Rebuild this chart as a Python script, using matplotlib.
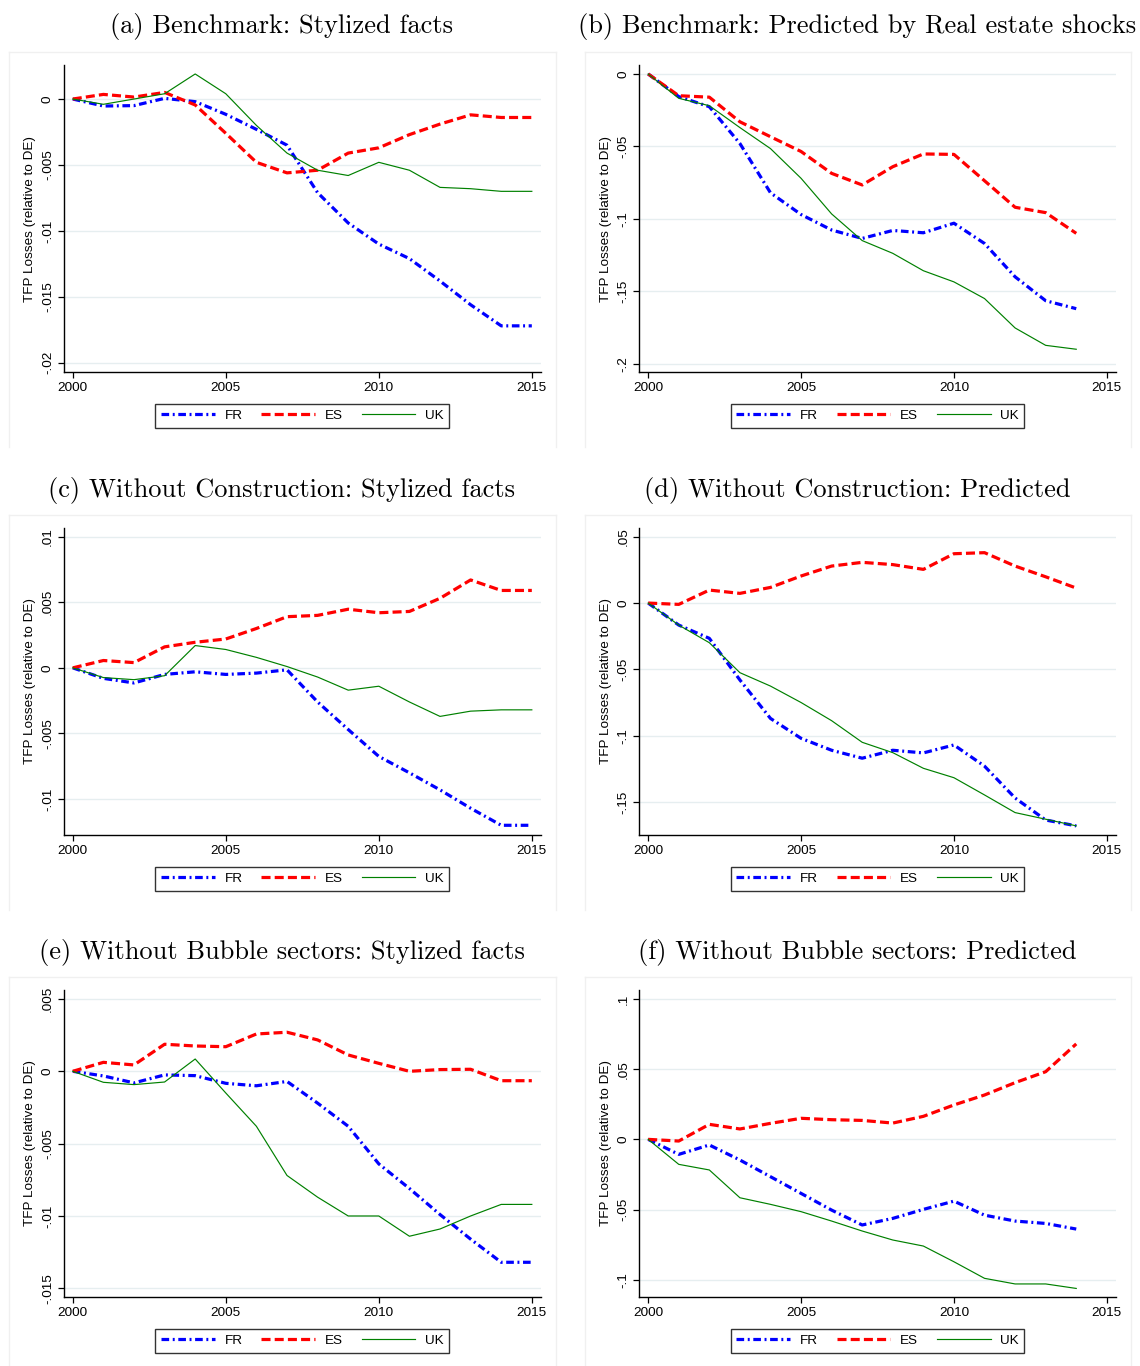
import matplotlib
matplotlib.use("Agg")
import matplotlib.pyplot as plt
from matplotlib.lines import Line2D
import numpy as np

plt.rcParams['font.family'] = ['Liberation Sans', 'DejaVu Sans']
plt.rcParams['lines.scale_dashes'] = False

# ---------------- data ----------------
years_sf = list(range(2000, 2016))   # stylized facts
years_pr = list(range(2000, 2015))   # predicted

# (a) Benchmark: Stylized facts
a_FR = [0, -0.00053, -0.0005, 0.00005, -0.0002, -0.00116, -0.0023, -0.0035, -0.0071, -0.0094, -0.011, -0.0121, -0.0138, -0.0156, -0.0172, -0.0172]
a_ES = [0, 0.00035, 0.00015, 0.0005, -0.00045, -0.0026, -0.0048, -0.0056, -0.0054, -0.0041, -0.0037, -0.0027, -0.0019, -0.0012, -0.0014, -0.0014]
a_UK = [0, -0.0004, 0.0, 0.0004, 0.0019, 0.0004, -0.002, -0.0041, -0.0054, -0.0058, -0.0048, -0.0054, -0.0067, -0.0068, -0.007, -0.007]

# (b) Benchmark: Predicted by Real estate shocks
b_FR = [0, -0.0156, -0.0226, -0.048, -0.082, -0.097, -0.1077, -0.1135, -0.108, -0.1096, -0.103, -0.117, -0.14, -0.1565, -0.162]
b_ES = [0, -0.015, -0.016, -0.033, -0.0433, -0.0535, -0.0686, -0.0766, -0.064, -0.0552, -0.0555, -0.0737, -0.092, -0.0957, -0.11]
b_UK = [0, -0.0168, -0.0219, -0.037, -0.0515, -0.072, -0.0966, -0.115, -0.1238, -0.1358, -0.1435, -0.155, -0.1753, -0.1873, -0.19]

# (c) Without Construction: Stylized facts
c_FR = [0, -0.0008, -0.00115, -0.0005, -0.0003, -0.0005, -0.0004, -0.00015, -0.0026, -0.0047, -0.00675, -0.008, -0.0093, -0.0107, -0.012, -0.012]
c_ES = [0, 0.00056, 0.0004, 0.0016, 0.00195, 0.0022, 0.003, 0.0039, 0.004, 0.00447, 0.0042, 0.0043, 0.0053, 0.0067, 0.0059, 0.0059]
c_UK = [0, -0.00074, -0.0009, -0.0006, 0.0017, 0.0014, 0.0008, 0.0001, -0.0007, -0.0017, -0.0014, -0.0026, -0.0037, -0.0033, -0.0032, -0.0032]

# (d) Without Construction: Predicted
d_FR = [0, -0.0166, -0.0266, -0.058, -0.087, -0.102, -0.111, -0.117, -0.111, -0.113, -0.107, -0.123, -0.147, -0.1636, -0.168]
d_ES = [0, -0.001, 0.0098, 0.0073, 0.0118, 0.0204, 0.0279, 0.0307, 0.029, 0.0254, 0.0372, 0.038, 0.0279, 0.0198, 0.0113]
d_UK = [0, -0.0166, -0.0299, -0.0525, -0.0626, -0.075, -0.0887, -0.105, -0.1128, -0.1246, -0.1317, -0.1447, -0.158, -0.163, -0.168]

# (e) Without Bubble sectors: Stylized facts
e_FR = [0, -0.00032, -0.0008, -0.00025, -0.0003, -0.00083, -0.001, -0.0007, -0.0022, -0.0038, -0.0064, -0.0081, -0.0099, -0.0116, -0.0132, -0.0132]
e_ES = [0, 0.00062, 0.00044, 0.00187, 0.00175, 0.0017, 0.00258, 0.0027, 0.00217, 0.00113, 0.00055, 0.0, 0.00012, 0.00014, -0.00065, -0.00065]
e_UK = [0, -0.00076, -0.00092, -0.00074, 0.00085, -0.0015, -0.0038, -0.0072, -0.0087, -0.01, -0.01, -0.0114, -0.0109, -0.01, -0.0092, -0.0092]

# (f) Without Bubble sectors: Predicted
f_FR = [0, -0.0107, -0.004, -0.0147, -0.0266, -0.0385, -0.0504, -0.061, -0.0563, -0.0499, -0.044, -0.054, -0.0582, -0.0599, -0.0639]
f_ES = [0, -0.0012, 0.0107, 0.0074, 0.0114, 0.015, 0.014, 0.0135, 0.0116, 0.0164, 0.0245, 0.0316, 0.0404, 0.0482, 0.068]
f_UK = [0, -0.0178, -0.0218, -0.0416, -0.0463, -0.0515, -0.0582, -0.0653, -0.0717, -0.076, -0.0872, -0.099, -0.103, -0.103, -0.1062]

titles = ["(a) Benchmark: Stylized facts",
          "(b) Benchmark: Predicted by Real estate shocks",
          "(c) Without Construction: Stylized facts",
          "(d) Without Construction: Predicted",
          "(e) Without Bubble sectors: Stylized facts",
          "(f) Without Bubble sectors: Predicted"]

yticks = [[0, -0.005, -0.01, -0.015, -0.02],
          [0, -0.05, -0.1, -0.15, -0.2],
          [0.01, 0.005, 0, -0.005, -0.01],
          [0.05, 0, -0.05, -0.1, -0.15],
          [0.005, 0, -0.005, -0.01, -0.015],
          [0.1, 0.05, 0, -0.05, -0.1]]
ylims = [(-0.0207, 0.00258), (-0.2057, 0.0062), (-0.01274, 0.01066),
         (-0.1749, 0.0566), (-0.0156, 0.00562), (-0.1123, 0.1064)]
xticks = [2000, 2005, 2010, 2015]
series_names = ["FR", "ES", "UK"]
ylabel = "TFP Losses (relative to DE)"

panels = [(years_sf, a_FR, a_ES, a_UK), (years_pr, b_FR, b_ES, b_UK),
          (years_sf, c_FR, c_ES, c_UK), (years_pr, d_FR, d_ES, d_UK),
          (years_sf, e_FR, e_ES, e_UK), (years_pr, f_FR, f_ES, f_UK)]

def stata_fmt(v):
    if abs(v) < 1e-12:
        return "0"
    return ("%g" % v).replace("0.", ".")

# ---------------- layout ----------------
W, H = 1140, 1366
fig = plt.figure(figsize=(W / 100, H / 100), dpi=100)
fig.patch.set_facecolor("white")

col_x = [(63.6, 541.0), (639.0, 1116.0)]
row_y = [(65, 372), (528, 835), (990, 1297)]
title_x = [282, 857]
title_y = [27, 490, 952]
frame_x = [(9, 556), (585, 1131)]

styles = [dict(color="#0000ff", lw=2.3, ls=(0, (5.5, 2.6, 1.4, 2.6))),
          dict(color="#ff0000", lw=2.3, ls=(0, (6.5, 3.0))),
          dict(color="#008000", lw=0.85, ls="-")]

grid_col = "#e6eef0"

for i, (yrs, fr, es, uk) in enumerate(panels):
    r, c = divmod(i, 2)
    x0, x1 = col_x[c]
    yt, yb = row_y[r]
    ax = fig.add_axes([x0 / W, 1 - yb / H, (x1 - x0) / W, (yb - yt) / H])
    ax.set_facecolor("white")
    for s, vals, st in zip(series_names, (fr, es, uk), styles):
        ax.plot(yrs, vals, label=s, color=st["color"], lw=st["lw"],
                linestyle=st["ls"], dash_capstyle="butt", solid_joinstyle="round")
    ax.set_xlim(1999.7, 2015.3)
    ax.set_ylim(*ylims[i])
    ax.set_xticks(xticks)
    ax.set_xticklabels([str(t) for t in xticks], fontsize=9.7)
    ax.set_yticks(yticks[i])
    ax.set_yticklabels([stata_fmt(t) for t in yticks[i]], fontsize=9.7,
                       rotation=90, va="center")
    ax.grid(axis="y", color=grid_col, lw=1.0)
    ax.set_axisbelow(True)
    for sp in ("top", "right"):
        ax.spines[sp].set_visible(False)
    for sp in ("left", "bottom"):
        ax.spines[sp].set_linewidth(1.0)
        ax.spines[sp].set_color("black")
    ax.tick_params(axis="both", direction="out", length=4.5, width=0.9,
                   colors="black", pad=2.5)
    ax.set_ylabel(ylabel, fontsize=9.7, labelpad=4)
    leg = ax.legend(loc="upper center", bbox_to_anchor=(0.5, -0.104), ncol=3,
                    frameon=True, fancybox=False, fontsize=9.7,
                    handlelength=4.0, handletextpad=0.7, columnspacing=1.4,
                    borderaxespad=0, borderpad=0.42)
    leg.get_frame().set_edgecolor("black")
    leg.get_frame().set_linewidth(1.0)

    # title
    fig.text(title_x[c] / W, 1 - title_y[r] / H, titles[i], ha="center",
             va="center", fontsize=19, family="cmr10")
    # faint panel frame
    fx0, fx1 = frame_x[c]
    fy0, fy1 = yt - 13, yb + 75
    for (xa, ya, xb, yb2) in [(fx0, fy0, fx0, fy1), (fx0, fy0, fx1, fy0),
                              (fx1, fy0, fx1, fy1)]:
        fig.add_artist(Line2D([xa / W, xb / W], [1 - ya / H, 1 - yb2 / H],
                              color="#f0f0f0", lw=1.0))

fig.savefig("out.png", dpi=100, facecolor="white")
